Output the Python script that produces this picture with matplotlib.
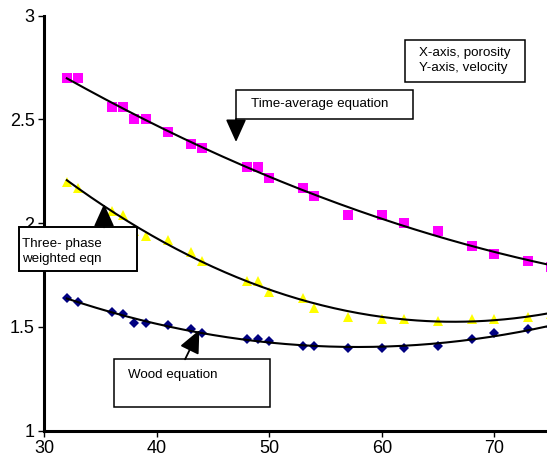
import matplotlib
matplotlib.use("Agg")
import matplotlib.pyplot as plt
from matplotlib.patches import Rectangle
import numpy as np

plt.rcParams['font.family'] = ['Liberation Sans', 'DejaVu Sans']

# porosity (x) and velocity (y)
porosity = [32, 33, 36, 37, 38, 39, 41, 43, 44, 48, 49, 50,
            53, 54, 57, 60, 62, 65, 68, 70, 73, 75]
v_time_avg = [2.70, 2.70, 2.56, 2.56, 2.50, 2.50, 2.44, 2.38, 2.36, 2.27, 2.27, 2.22,
              2.17, 2.13, 2.04, 2.04, 2.00, 1.96, 1.89, 1.85, 1.82, 1.79]
v_three_phase = [2.20, 2.17, 2.06, 2.04, 1.96, 1.94, 1.92, 1.86, 1.82, 1.72, 1.72, 1.67,
                 1.64, 1.59, 1.55, 1.54, 1.54, 1.53, 1.54, 1.54, 1.55, 1.56]
v_wood = [1.64, 1.62, 1.57, 1.56, 1.52, 1.52, 1.51, 1.49, 1.47, 1.44, 1.44, 1.43,
          1.41, 1.41, 1.40, 1.40, 1.40, 1.41, 1.44, 1.47, 1.49, 1.50]

x_ticks = [30, 40, 50, 60, 70]
y_ticks = [1, 1.5, 2, 2.5, 3]
y_ticklabels = ['1', '1.5', '2', '2.5', '3']

fig = plt.figure(figsize=(5.47, 4.66), dpi=100)
ax = fig.add_axes([0.081, 0.0758, 0.9256, 0.8906])

x = np.array(porosity, dtype=float)
xs = np.linspace(x.min(), x.max(), 200)

series = [
    (v_time_avg, 's', '#FF00FF', 6.8),
    (v_three_phase, '^', '#FFFF00', 7.8),
    (v_wood, 'D', '#000080', 5.6),
]
for vals, mk, col, ms in series:
    ax.plot(x, vals, linestyle='none', marker=mk, color=col, markersize=ms,
            markeredgewidth=0, clip_on=False, zorder=3)
    # Excel-style 2nd order polynomial trendline
    coef = np.polyfit(x, vals, 2)
    ax.plot(xs, np.polyval(coef, xs), color='black', lw=1.5, zorder=4, clip_on=False)

ax.set_xlim(30, 75)
ax.set_ylim(1, 3)
ax.set_xticks(x_ticks)
ax.set_yticks(y_ticks)
ax.set_yticklabels(y_ticklabels)
ax.tick_params(direction='out', length=4, width=1, labelsize=13, pad=3)

# make it look like the old spreadsheet chart
for s in ('top', 'right'):
    ax.spines[s].set_visible(False)
for s in ('left', 'bottom'):
    ax.spines[s].set_linewidth(2.2)


def box(x0, y0, x1, y1, lw=1.1):
    r = Rectangle((x0, y0), x1 - x0, y1 - y0, facecolor='white',
                  edgecolor='black', lw=lw, zorder=6, clip_on=False)
    ax.add_patch(r)


def arrow(x0, y0, x1, y1):
    ax.annotate('', xy=(x1, y1), xytext=(x0, y0), zorder=7,
                arrowprops=dict(arrowstyle='-|>,head_length=1.0,head_width=0.45',
                                mutation_scale=14, lw=1.3, color='black',
                                shrinkA=0, shrinkB=0))


# axis note
box(62.05, 2.680, 72.68, 2.882)
ax.text(63.27, 2.785, 'X-axis, porosity\nY-axis, velocity', fontsize=9.6,
        va='center', ha='left', linespacing=1.35, zorder=8)

# time-average
box(47.04, 2.502, 62.75, 2.643)
ax.text(48.35, 2.572, 'Time-average equation', fontsize=9.6,
        va='center', ha='left', zorder=8)
arrow(47.04, 2.502, 47.04, 2.391)

# three phase
box(27.71, 1.771, 38.26, 1.980, lw=1.4)
ax.text(28.0, 1.862, 'Three- phase\nweighted eqn', fontsize=9.6,
        va='center', ha='left', linespacing=1.35, zorder=8)
arrow(35.31, 1.980, 35.31, 2.0925)

# wood
box(36.22, 1.115, 50.06, 1.344)
ax.text(37.47, 1.268, 'Wood equation', fontsize=9.6,
        va='center', ha='left', zorder=8)
arrow(42.51, 1.344, 43.78, 1.485)

fig.savefig('out.png', dpi=100)
